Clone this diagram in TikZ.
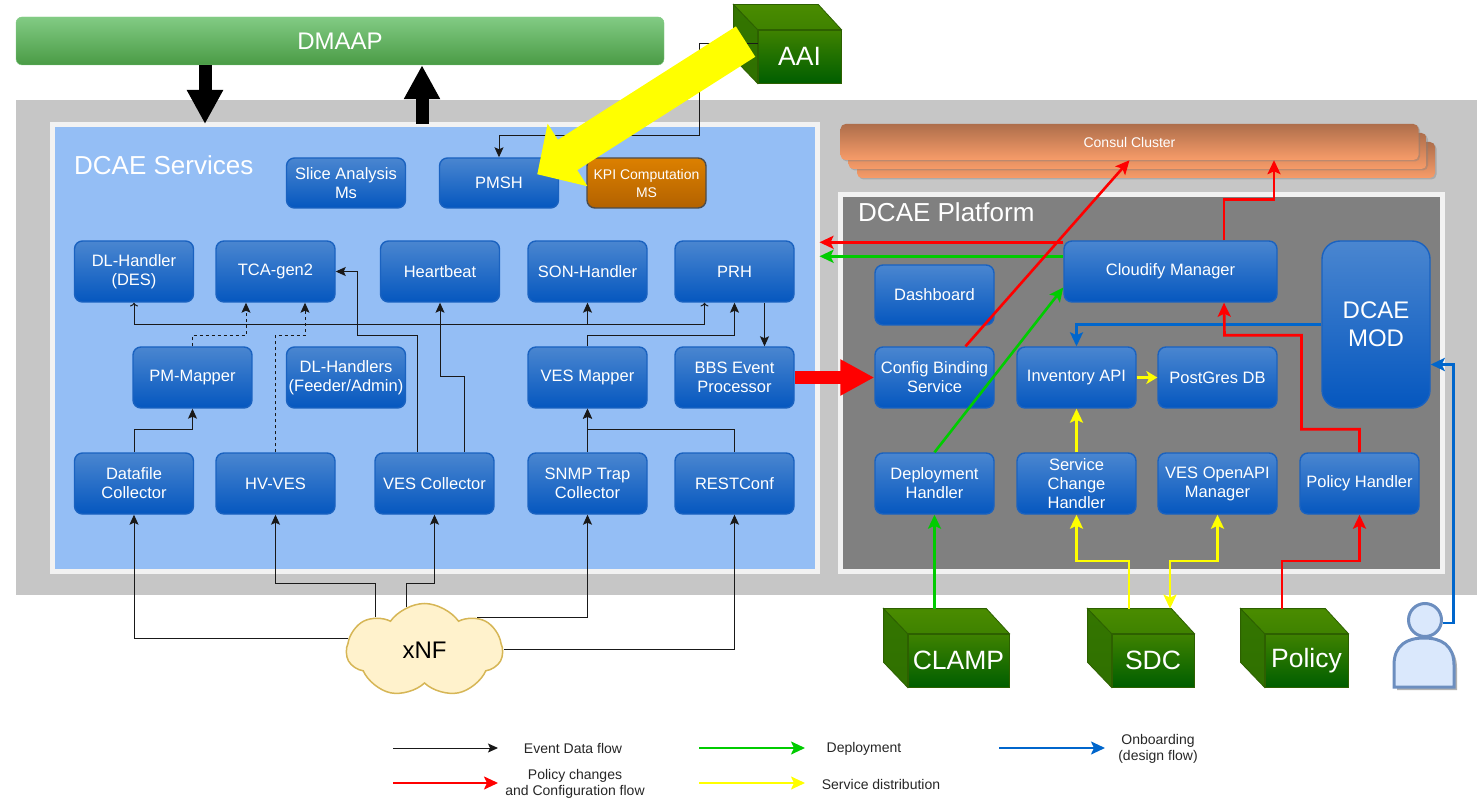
\documentclass[tikz,border=0pt]{standalone}
\usepackage{fontspec}
\setmainfont{Liberation Sans}
\usetikzlibrary{arrows.meta,calc,shadows,shapes.geometric,shapes.symbols}

\definecolor{boxtop}{HTML}{4A86D0}
\definecolor{boxbot}{HTML}{0557BF}
\definecolor{boxline}{HTML}{1A62C0}
\definecolor{svcblue}{HTML}{94BEF5}
\definecolor{platgray}{HTML}{808080}
\definecolor{backgray}{HTML}{C6C6C6}
\definecolor{dmaaptop}{HTML}{82CB84}
\definecolor{dmaapbot}{HTML}{4A9B45}
\definecolor{consultop}{HTML}{AE6E4B}
\definecolor{consulbot}{HTML}{F79C69}
\definecolor{kpitop}{HTML}{DC8000}
\definecolor{kpibot}{HTML}{B36200}
\definecolor{cubetop}{HTML}{3F8200}
\definecolor{cubebot}{HTML}{005E00}
\definecolor{cubelid}{HTML}{4A8C00}
\definecolor{cubeside}{HTML}{2F7000}
\definecolor{cubeline}{HTML}{2D6000}
\definecolor{cloudfill}{HTML}{FFF2CC}
\definecolor{cloudline}{HTML}{D6B656}
\definecolor{userfill}{HTML}{DAE8FC}
\definecolor{userline}{HTML}{6C8EBF}
\definecolor{flowgreen}{HTML}{00CC00}
\definecolor{flowblue}{HTML}{0066CC}
\definecolor{flowyellow}{HTML}{FFFF00}
\definecolor{flowred}{HTML}{FF0000}

\tikzset{
  svcbox/.style={draw=boxline,line width=1.4pt,rounded corners=8pt,top color=boxtop,bottom color=boxbot,
    text=white,align=center,inner sep=0pt,minimum width=119pt,minimum height=61pt,
    font=\fontsize{16.5}{19}\selectfont},
  cubeface/.style={draw=cubeline,line width=.8pt,top color=cubetop,bottom color=cubebot,
    text=white,inner sep=0pt,minimum height=53pt,font=\fontsize{26.5}{30}\selectfont},
  consul/.style={rounded corners=5pt,top color=consultop,bottom color=consulbot,
    minimum width=578pt,minimum height=36pt,inner sep=0pt,
    drop shadow={shadow xshift=1.5pt,shadow yshift=-1.5pt,opacity=.4}},
  areabox/.style={draw=white!95!black,line width=5pt,inner sep=0pt},
  title/.style={text=white,inner sep=0pt,anchor=west,font=\fontsize{26}{30}\selectfont},
  legendtext/.style={text=black!85,align=center,inner sep=0pt,font=\fontsize{14}{16}\selectfont},
  flow/.style={draw=black!90,line width=1pt,-{Stealth[length=10pt,width=9pt,inset=2pt]}},
  dashflow/.style={flow,dashed},
  colourflow/.style={line width=2.6pt,-{Stealth[length=14pt,width=13pt,inset=3pt]}},
  redflow/.style={colourflow,draw=flowred,color=flowred},
  greenflow/.style={colourflow,draw=flowgreen,color=flowgreen},
  blueflow/.style={colourflow,draw=flowblue,color=flowblue},
  yellowflow/.style={colourflow,draw=flowyellow,color=flowyellow},
  bigflow/.style={line width=13pt,-{Triangle[length=34pt,width=34pt]}},
}

\newcommand{\cubesides}[1]{
  \draw[line width=.8pt,draw=cubeline,top color=cubeside!80!cubelid,bottom color=cubeside]
    (#1.north west) -- ++(-24,-25) -- ($(#1.south west)+(-24,-25)$) -- (#1.south west) -- cycle;
  \draw[line width=.8pt,draw=cubeline,top color=cubelid,bottom color=cubetop]
    (#1.north west) -- ++(-24,-25) -- ($(#1.north east)+(-23,-25)$) -- (#1.north east) -- cycle;
}

\begin{document}
\begin{tikzpicture}[x=1pt,y=-1pt]
        \useasboundingbox (0,0) rectangle (1478,799);

        %% areas
        \node at (746.5,347.5) [fill=backgray,inner sep=0pt,minimum width=1461pt,minimum height=495pt] (backarea) {};
        \node at (434.5,348) [areabox,fill=svcblue,minimum width=765pt,minimum height=447pt] (services) {};
        \node at (1141,383) [areabox,fill=platgray,minimum width=602pt,minimum height=377pt] (platform) {};
        \node at (74,165) [title] (servicestitle) {DCAE Services};
        \node at (858,212) [title] (platformtitle) {DCAE Platform};

        \node at (340,41) [draw=dmaaptop,rounded corners=6pt,top color=dmaaptop,bottom color=dmaapbot,
          text=white,inner sep=0pt,minimum width=648pt,minimum height=48pt,font=\fontsize{24}{28}\selectfont] (dmaap) {DMAAP};

        %% consul stack
        \node at (1146,160) [consul] (consulc) {};
        \node at (1137.5,151) [consul] (consulb) {};
        \node at (1129.5,142) [consul,text=white,font=\fontsize{14}{16}\selectfont] (consula) {Consul Cluster};

        %% services, top row
        \node at (346,183) [svcbox,minimum height=50pt] (slice) {Slice Analysis\\Ms};
        \node at (499,183) [svcbox,minimum height=50pt] (pmsh) {PMSH};
        \node at (646.5,183) [svcbox,minimum height=50pt,draw=black!70,top color=kpitop,bottom color=kpibot,
          font=\fontsize{14}{18}\selectfont] (kpi) {KPI Computation\\MS};

        %% services, handlers
        \node at (134,271.5) [svcbox] (dlhandler) {DL-Handler\\(DES)};
        \node at (275.5,271.5) [svcbox] (tcagen) {TCA-gen2};
        \node at (440,271.5) [svcbox] (heartbeat) {Heartbeat};
        \node at (587.5,271.5) [svcbox] (sonhandler) {SON-Handler};
        \node at (734.5,271.5) [svcbox] (prh) {PRH};

        %% services, mappers
        \node at (192.5,377.5) [svcbox] (pmmapper) {PM-Mapper};
        \node at (346,377.5) [svcbox] (dlhandlers) {DL-Handlers\\(Feeder/Admin)};
        \node at (587.5,377.5) [svcbox] (vesmapper) {VES Mapper};
        \node at (734.5,377.5) [svcbox] (bbs) {BBS Event\\Processor};

        %% services, collectors
        \node at (134,483.5) [svcbox] (datafile) {Datafile\\Collector};
        \node at (275.5,483.5) [svcbox] (hvves) {HV-VES};
        \node at (434.5,483.5) [svcbox] (vescoll) {VES Collector};
        \node at (587.5,483.5) [svcbox] (snmp) {SNMP Trap\\Collector};
        \node at (734.5,483.5) [svcbox] (restconf) {RESTConf};

        %% platform
        \node at (1170.5,271.5) [svcbox,minimum width=213pt] (cloudify) {Cloudify Manager};
        \node at (1376,324.5) [svcbox,rounded corners=18pt,minimum width=108pt,minimum height=167pt,
          font=\fontsize{24}{28}\selectfont] (dcaemod) {DCAE\\MOD};
        \node at (934.5,295) [svcbox,minimum height=60pt] (dashboard) {Dashboard};
        \node at (934.5,377.5) [svcbox] (config) {Config Binding\\Service};
        \node at (1076.5,377.5) [svcbox] (inventory) {Inventory API};
        \node at (1217.5,377.5) [svcbox] (postgres) {PostGres DB};
        \node at (934.5,483.5) [svcbox] (deployment) {Deployment\\Handler};
        \node at (1076.5,483.5) [svcbox] (servicechange) {Service\\Change\\Handler};
        \node at (1217.5,483.5) [svcbox] (vesopenapi) {VES OpenAPI\\Manager};
        \node at (1359.5,483.5) [svcbox] (policyhandler) {Policy Handler};

        %% outside
        \node at (799.5,56.5) [cubeface,minimum width=83pt] (aai) {AAI};
        \node at (958.5,660.5) [cubeface,minimum width=101pt] (clamp) {CLAMP};
        \node at (1153,660.5) [cubeface,minimum width=82pt] (sdc) {SDC};
        \node at (1306.5,660.5) [cubeface,minimum width=83pt] (policy) {Policy};
        \cubesides{aai}
        \cubesides{clamp}
        \cubesides{sdc}
        \cubesides{policy}

        \node at (424.5,650.5) [cloud,cloud puffs=7,cloud puff arc=110,aspect=1.7,draw=cloudline,line width=1.5pt,fill=cloudfill,
          minimum width=156pt,minimum height=94pt,inner sep=0pt,font=\fontsize{24}{28}\selectfont] (xnf) {xNF};

        %% designer
        \fill[black!30] (1397,690) -- (1397,668) .. controls (1397,648) and (1410,641) .. (1427,641)
          .. controls (1444,641) and (1457,648) .. (1457,668) -- (1457,690) -- cycle;
        \draw[line width=3pt,draw=userline,fill=userfill] (1394,687) -- (1394,665) .. controls (1394,645) and (1407,638) .. (1424,638)
          .. controls (1441,638) and (1454,645) .. (1454,665) -- (1454,687) -- cycle;
        \node at (1425,620) [ellipse,draw=userline,line width=3pt,fill=userfill,inner sep=0pt,minimum width=33pt,minimum height=33pt] (designer) {};

        %% dmaap links
        \draw[bigflow] (dmaap.south -| 205,0) -- ($(services.north -| 205,0)+(0,2)$);
        \draw[bigflow] ($(services.north -| 422,0)+(0,2)$) -- (dmaap.south -| 422,0);

        %% event data flow
        \draw[flow] (aai.west |- 0,44) -| ($(pmsh.north)+(200,-22)$) -| (pmsh.north);
        \draw[flow,<->] (dlhandler.south) -- ++(0,22) -| ($(prh.south)+(-30,0)$);
        \draw[flow] (sonhandler.south |- 0,324) -- (sonhandler.south);
        \draw[flow] ($(prh.south)+(30,0)$) -- ($(bbs.north)+(30,0)$);
        \draw[flow] (vesmapper.north) -- ++(0,-11) -| (prh.south);
        \draw[flow] (datafile.north) -- ++(0,-23) -| (pmmapper.south);
        \draw[flow] (snmp.north) -- (vesmapper.south);
        \draw[flow] (restconf.north) -- ++(0,-23) -| (vesmapper.south);
        \draw[flow] ($(vescoll.north)+(30,0)$) -- ++(0,-76) -| (heartbeat.south);
        \draw[flow] ($(vescoll.north)+(-17.5,0)$) -- ++(0,-117) -- ++(-60,0) |- (tcagen.east);
        \draw[dashflow] (pmmapper.north) -- ++(0,-11) -| ($(tcagen.south)+(-29.5,0)$);
        \draw[dashflow] (hvves.north) -- ++(0,-117) -| ($(tcagen.south)+(29.5,0)$);

        %% from xnf
        \coordinate (xnfbus) at (0,583);
        \draw[flow] (xnf.171) -| (datafile.south);
        \draw[flow] (xnf.146) |- (xnfbus -| hvves.south) -- (hvves.south);
        \draw[flow] (xnf.113) |- (xnfbus -| vescoll.south) -- (vescoll.south);
        \draw[flow] (xnf.32) -| (snmp.south);
        \draw[flow] (xnf.1) -| (restconf.south);

        %% platform flows
        \draw[bigflow,draw=flowred,color=flowred] (bbs.east) -- (config.west);
        \coordinate (cloudifyred) at ($(cloudify.north west)+(0,2)$);
        \coordinate (cloudifygreen) at ($(cloudify.north west)+(0,16)$);
        \draw[redflow] (cloudifyred) -- (cloudifyred -| services.east);
        \draw[greenflow] (cloudifygreen) -- (cloudifygreen -| services.east);
        \draw[redflow] ($(config.north)+(31,0)$) -- ($(consula.south)+(0,0)$);
        \draw[redflow] ($(cloudify.north)+(53.5,0)$) -- ++(0,-41) -| ($(consula.south)+(144.5,0)$);
        \draw[greenflow] (deployment.north) -- ($(cloudify.west)+(0,16)$);
        \draw[blueflow] (dcaemod.west) -| (inventory.north);
        \draw[yellowflow,-{Stealth[length=11pt,width=13pt,inset=3pt]}] (inventory.east) -- (postgres.west);
        \draw[yellowflow] (servicechange.north) -- (inventory.south);
        \draw[redflow] (policyhandler.north) -- ++(0,-23) -- ++(-58,0) |- ++(-77,-94) -- ($(cloudify.south)+(53.5,0)$);
        \draw[blueflow] (designer.-10) -- ++(11,0) |- ($(dcaemod.east)+(0,40)$);
        \draw[greenflow] (clamp.north west -| deployment.south) ++(0,-25) -- (deployment.south);

        %% sdc and policy
        \coordinate (sdcbus) at (0,561);
        \coordinate (sdctop) at ($(sdc.north)+(0,-25)$);
        \draw[yellowflow] (sdctop -| 1129,0) |- (sdcbus -| servicechange.south) -- (servicechange.south);
        \draw[yellowflow,{Stealth[length=14pt,width=13pt,inset=3pt]}-{Stealth[length=14pt,width=13pt,inset=3pt]}] (sdctop -| 1170,0) |- (sdcbus -| vesopenapi.south) -- (vesopenapi.south);
        \draw[redflow] ($(policy.north)+(-24.5,-25)$) |- (sdcbus -| policyhandler.south) -- (policyhandler.south);

        %% aai arrow
        \draw[line width=36pt,draw=flowyellow,color=flowyellow,-{Triangle[length=36pt,width=72pt]}] ($(aai.north west)+(-12,12)$) -- ($(pmsh.north east)+(-22,17)$);

        %% legend
        \coordinate (legendblack) at (393,748);
        \coordinate (legendgreen) at (699,748);
        \coordinate (legendblue) at (999,748);
        \coordinate (legendred) at (393,783);
        \coordinate (legendyellow) at (699,783);
        \draw[flow] (legendblack) -- ++(105,0);
        \draw[greenflow,line width=2pt] (legendgreen) -- ++(106,0);
        \draw[blueflow,line width=2pt] (legendblue) -- ++(106,0);
        \draw[redflow,line width=2pt] (legendred) -- ++(105,0);
        \draw[yellowflow,line width=2pt] (legendyellow) -- ++(106,0);
        \node at (573,748) [legendtext] (eventtext) {Event Data flow};
        \node at (864,749) [legendtext] (deploytext) {Deployment};
        \node at (1158,749) [legendtext] (onboardtext) {Onboarding\\(design flow)};
        \node at (575,784) [legendtext] (policytext) {Policy changes\\and Configuration flow};
        \node at (881,784) [legendtext] (distributiontext) {Service distribution};
      \end{tikzpicture}
\end{document}
